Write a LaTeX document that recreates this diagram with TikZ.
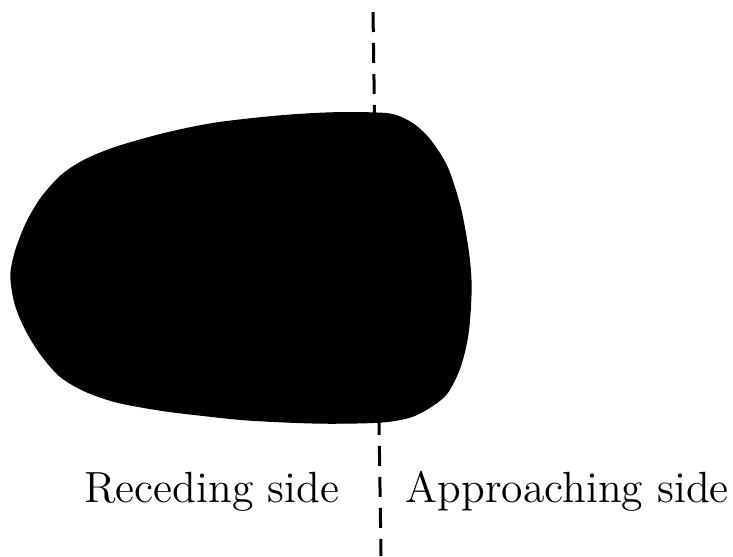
\documentclass[tikz,border=0pt]{standalone}
\begin{document}
\begin{tikzpicture}[x=0.3pt,y=-0.3pt,
  body/.style={fill=black,draw=black,line width=0.4pt},
  divider/.style={line width=0.9pt,dash pattern=on 6pt off 3.3pt},
  sidelabel/.style={inner sep=0pt,font=\fontsize{13.1pt}{15pt}\selectfont}]
\useasboundingbox (0,0) rectangle (733,556);
% the body, traced as a smooth closed outline
\fill[body] plot[smooth cycle,tension=0.5] coordinates {
  (372,113) (394,115) (413,124) (430,140) (447,167) (460,207) (468,250)
  (471,287) (468,333) (460,367) (447,393) (430,407) (410,417) (380,422)
  (320,423) (250,420) (200,415) (160,410) (117,402) (85,391) (60,376)
  (40,353) (25,328) (15,303) (11,275) (16,250) (27,222) (42,197)
  (62,175) (85,160) (117,147) (167,133) (217,123) (280,116) (330,113)};
% line of sight dividing the two halves
\coordinate (top) at (373,12);
\coordinate (bottom) at (381,556);
\draw[divider] (top) -- (bottom);
% labels
\node[sidelabel,anchor=base east] (rec) at (340,502) {Receding side};
\node[sidelabel,anchor=base west] (app) at (405,502) {Approaching side};
\end{tikzpicture}
\end{document}
